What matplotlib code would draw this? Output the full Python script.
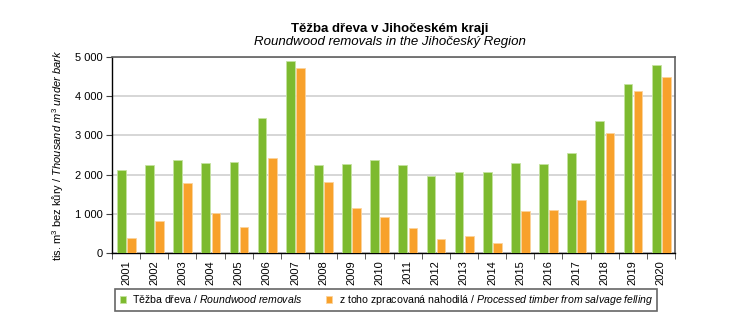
import matplotlib.pyplot as plt
import numpy as np

plt.rcParams['font.family'] = ['Liberation Sans', 'DejaVu Sans']
plt.rcParams['mathtext.fontset'] = 'custom'
plt.rcParams['mathtext.rm'] = 'Liberation Sans'
plt.rcParams['mathtext.it'] = 'Liberation Sans:italic'

years = [str(y) for y in range(2001, 2021)]
roundwood = [2114, 2234, 2361, 2285, 2327, 3436, 4902, 2234, 2259, 2361,
             2234, 1952, 2063, 2063, 2293, 2268, 2558, 3367, 4314, 4800]
salvage = [375, 810, 1782, 1015, 656, 2421, 4714, 1807, 1159, 912,
           639, 367, 426, 247, 1083, 1100, 1356, 3052, 4126, 4493]

green = '#7dba2f'
orange = '#f8a12b'

fig = plt.figure(figsize=(7.36, 3.33), dpi=100)
ax = fig.add_axes([112/736, 1 - 253/333, 563/736, 196/333])

x = np.arange(len(years))
ax.bar(x - 0.17, roundwood, width=0.31, color=green, edgecolor='#c5e3a0', linewidth=0.6,
       label='Těžba dřeva / $\\it{Roundwood\\ removals}$', zorder=3)
ax.bar(x + 0.19, salvage, width=0.31, color=orange, edgecolor='#fcd39c', linewidth=0.6,
       label='z toho zpracovaná nahodilá / $\\it{Processed\\ timber\\ from\\ salvage\\ felling}$', zorder=3)

ax.set_xlim(-0.5, len(years) - 0.5)
ax.set_ylim(0, 5000)
ax.set_yticks([0, 1000, 2000, 3000, 4000, 5000])
ax.set_yticklabels(['0', '1 000', '2 000', '3 000', '4 000', '5 000'], fontsize=8)
ax.yaxis.grid(True, color='#d0d0d0', linewidth=1.2, zorder=0)

ax.set_xticks(x)
ax.set_xticklabels(years, rotation=90, fontsize=8)
ax.set_xticks(np.arange(-0.5, len(years)), minor=True)
ax.tick_params(axis='x', which='major', length=0, pad=5)
ax.tick_params(axis='x', which='minor', length=4, color='#404040')
ax.tick_params(axis='y', length=4, color='#404040', pad=3)

for s in ['left', 'bottom']:
    ax.spines[s].set_color('black')
    ax.spines[s].set_linewidth(1.0)
for s in ['top', 'right']:
    ax.spines[s].set_color('#606060')
    ax.spines[s].set_linewidth(1.2)

ax.set_ylabel('tis. m$^3$ bez kůry / $\\it{Thousand\\ m^3\\ under\\ bark}$', fontsize=8, labelpad=6)

fig.text(390/736, 1 - 29/333, 'Těžba dřeva v Jihočeském kraji', ha='center', va='center',
         fontsize=9.5, fontweight='bold')
fig.text(390/736, 1 - 42/333, 'Roundwood removals in the Jihočeský Region', ha='center', va='center',
         fontsize=9.5, style='italic')

leg = fig.legend(loc='center left', bbox_to_anchor=(110/736, 1 - 300/333), ncol=2, fontsize=7.6,
                 frameon=True, fancybox=False, edgecolor='#404040', handlelength=0.6, handleheight=0.6,
                 handletextpad=0.6, columnspacing=2.2, borderpad=0.4)
leg.get_frame().set_linewidth(1.2)

fig.savefig('out.png', dpi=100)
